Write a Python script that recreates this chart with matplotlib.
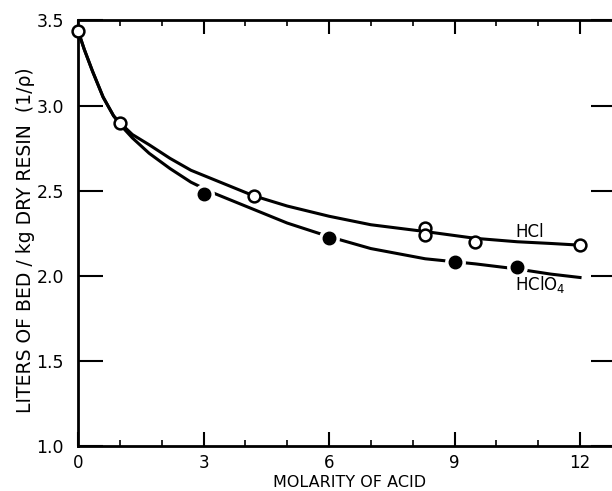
import numpy as np
import matplotlib
matplotlib.use("Agg")
import matplotlib.pyplot as plt

# measured points (molarity, liters of bed / kg dry resin)
hcl_x = [0, 1.0, 4.2, 8.3, 8.3, 9.5, 12.0]
hcl_y = [3.44, 2.90, 2.47, 2.28, 2.24, 2.20, 2.18]
hclo4_x = [3.0, 6.0, 9.0, 10.5]
hclo4_y = [2.48, 2.22, 2.08, 2.05]

# smooth curves
curve_x = [0, 0.15, 0.35, 0.6, 0.85, 1.0, 1.3, 1.7, 2.2, 2.7, 3.2, 4.2, 5.0, 6.0, 7.0, 8.3, 9.5, 10.5, 11.3, 12.0]
hcl_curve = [3.44, 3.33, 3.20, 3.05, 2.94, 2.90, 2.83, 2.77, 2.69, 2.62, 2.57, 2.47, 2.41, 2.35, 2.30, 2.26, 2.22, 2.20, 2.19, 2.18]
hclo4_curve = [3.44, 3.33, 3.20, 3.05, 2.94, 2.89, 2.81, 2.72, 2.63, 2.55, 2.49, 2.39, 2.31, 2.23, 2.16, 2.10, 2.07, 2.04, 2.01, 1.99]

xticks = [0, 3, 6, 9, 12]
yticks = [1.0, 1.5, 2.0, 2.5, 3.0, 3.5]

fig = plt.figure(figsize=(6.12, 4.91), dpi=100)
ax = fig.add_axes([78/612, 45/491, 538/612, 425.5/491])

ax.plot(curve_x, hcl_curve, color='black', lw=2.2, zorder=2)
ax.plot(curve_x, hclo4_curve, color='black', lw=2.2, zorder=2)

# open circles for HCl
ax.plot(hcl_x, hcl_y, 'o', ms=8.5, mfc='white', mec='black', mew=1.8, zorder=4, clip_on=False)
# filled circles for HClO4, with a white halo that breaks the line
ax.plot(hclo4_x, hclo4_y, 'o', ms=15, mfc='white', mec='none', zorder=3)
ax.plot(hclo4_x, hclo4_y, 'o', ms=9, mfc='black', mec='black', zorder=4)

ax.text(10.45, 2.26, "HCl", fontsize=12, va='center')
ax.text(10.45, 1.95, "HClO$_4$", fontsize=12, va='center')

ax.set_xlim(0, 12.86)
ax.set_ylim(1.0, 3.5)

ax.set_xticks(xticks)
ax.set_xticklabels([str(v) for v in xticks], fontsize=12)
ax.set_xticks(np.arange(0, 13), minor=True)
ax.set_yticks(yticks)
ax.set_yticklabels(["%.1f" % v for v in yticks], fontsize=12.5)

ax.tick_params(axis='x', which='major', direction='in', length=10, width=1.5,
               top=True, pad=6)
ax.tick_params(axis='x', which='minor', direction='in', length=4, width=1.2, top=True)
ax.tick_params(axis='y', which='major', direction='in', length=18, width=1.5,
               right=True, pad=10)

for s in ax.spines.values():
    s.set_linewidth(2)
ax.spines['right'].set_visible(False)

ax.set_xlabel("MOLARITY OF ACID", fontsize=11.5, va='center')
ax.xaxis.set_label_coords(0.505, -0.086)
ax.set_ylabel("LITERS OF BED / kg DRY RESIN  (1/\u03c1)", fontsize=13.5, va='center')
ax.yaxis.set_label_coords(-0.097, 0.484)

fig.savefig("out.png", dpi=100)
